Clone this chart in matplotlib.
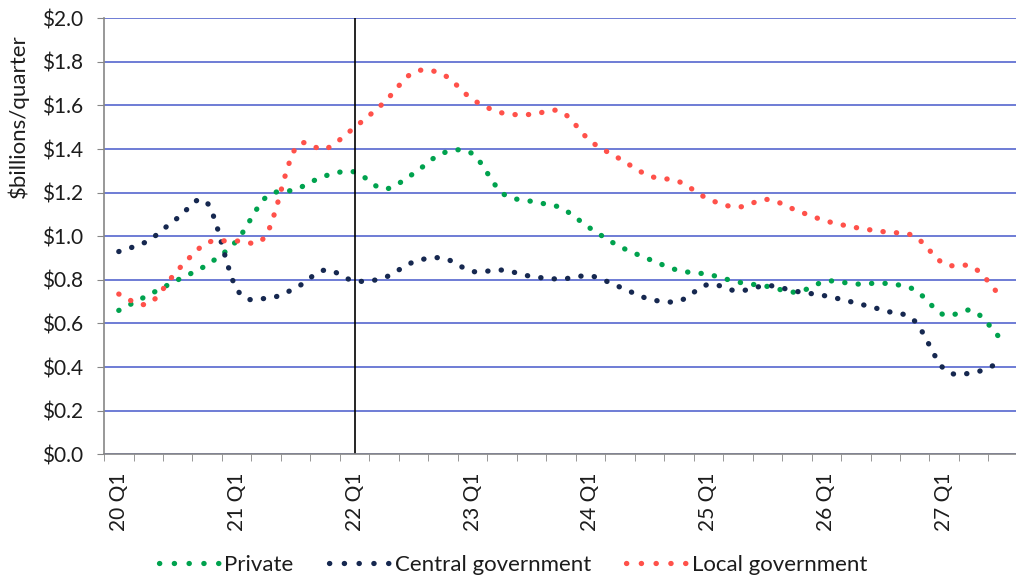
import numpy as np
import matplotlib
matplotlib.use("Agg")
import matplotlib.pyplot as plt
from matplotlib.path import Path
from matplotlib.patches import PathPatch
from matplotlib.lines import Line2D

# Quarterly categories, 20 Q1 .. 27 Q3
quarters = [f"{y} Q{q}" for y in range(20, 28) for q in range(1, 5)][:31]

# Spending, $ billions per quarter
private = [0.66, 0.73, 0.80, 0.87, 0.98, 1.18, 1.215, 1.277, 1.295, 1.217,
           1.288, 1.382, 1.378, 1.199, 1.16, 1.13, 1.036, 0.953, 0.894, 0.843,
           0.825, 0.79, 0.77, 0.744, 0.794, 0.781, 0.784, 0.754, 0.639, 0.657,
           0.515]
central = [0.93, 0.98, 1.084, 1.153, 0.758, 0.715, 0.763, 0.845, 0.795, 0.81,
           0.882, 0.90, 0.839, 0.845, 0.816, 0.804, 0.818, 0.767, 0.712, 0.703,
           0.779, 0.749, 0.774, 0.747, 0.726, 0.694, 0.658, 0.611, 0.391, 0.375,
           0.428]
local = [0.735, 0.69, 0.845, 0.97, 0.978, 1.006, 1.405, 1.40, 1.50, 1.614,
         1.752, 1.742, 1.628, 1.566, 1.559, 1.572, 1.437, 1.355, 1.277, 1.251,
         1.171, 1.134, 1.169, 1.118, 1.07, 1.04, 1.02, 0.999, 0.873, 0.857,
         0.708]

series = [("Private", private, "#00A24E"),
          ("Central government", central, "#162850"),
          ("Local government", local, "#FF514A")]

yticks = [0.0, 0.2, 0.4, 0.6, 0.8, 1.0, 1.2, 1.4, 1.6, 1.8, 2.0]
marker_quarter = "22 Q1"

FONT = ["Lato", "DejaVu Sans"]
plt.rcParams["font.family"] = FONT
TEXT = "#1c1c1c"

LW = 3.8
DOTS = (0, (0.05, 2.5))
LEGEND_DOTS = (0, (0.05, 2.75))


def smooth_path(xs, ys):
    """Cubic Bezier path through every point (Catmull-Rom style smoothing)."""
    pts = np.column_stack([xs, ys]).astype(float)
    n = len(pts)
    verts = [pts[0]]
    codes = [Path.MOVETO]
    for i in range(n - 1):
        p0 = pts[i - 1] if i > 0 else pts[i]
        p1 = pts[i]
        p2 = pts[i + 1]
        p3 = pts[i + 2] if i + 2 < n else pts[i + 1]
        c1 = p1 + (p2 - p0) / 6.0
        c2 = p2 - (p3 - p1) / 6.0
        verts += [c1, c2, p2]
        codes += [Path.CURVE4] * 3
    return Path(verts, codes)


fig = plt.figure(figsize=(10.16, 5.79), dpi=100)
ax = fig.add_axes([0.1024, 0.2154, 0.8995, 0.7530])

x = np.arange(len(quarters))
handles = []
for name, vals, color in series:
    patch = PathPatch(smooth_path(x, vals), fill=False, edgecolor=color,
                      linewidth=LW, linestyle=DOTS, capstyle="round",
                      zorder=3)
    ax.add_patch(patch)
    handles.append(Line2D([], [], color=color, linewidth=LW,
                          linestyle=LEGEND_DOTS, dash_capstyle="round",
                          label=name))

ax.axvline(quarters.index(marker_quarter), color="black", linewidth=1.2,
           zorder=4)

ax.set_xlim(-0.5, len(quarters) - 0.5)
ax.set_ylim(0, 2.0)

ax.set_yticks(yticks)
ax.set_yticklabels([f"${v:.1f}" for v in yticks], color=TEXT)
ax.yaxis.grid(True, color="#6272D2", linewidth=1.3, zorder=0)
ax.set_axisbelow(True)

label_pos = [i for i, q in enumerate(quarters) if q.endswith("Q1")]
ax.set_xticks(label_pos)
ax.set_xticklabels([quarters[i] for i in label_pos], rotation=90, va="top",
                   color=TEXT)
ax.set_xticks(np.arange(-0.5, len(quarters)), minor=True)
ax.tick_params(axis="x", which="major", length=0, pad=13, labelsize=15)
ax.tick_params(axis="x", which="minor", length=5, color="#868686",
               direction="out")
ax.tick_params(axis="y", length=5, color="#868686", pad=10, labelsize=15)

for side in ("top", "right"):
    ax.spines[side].set_visible(False)
for side in ("left", "bottom"):
    ax.spines[side].set_color("#868686")
    ax.spines[side].set_linewidth(1.2)
    ax.spines[side].set_zorder(5)

fig.text(0.018, 0.80, "$billions/quarter", rotation=90, ha="center",
         va="center", fontsize=16, color=TEXT)

fig.legend(handles=handles, loc="center", bbox_to_anchor=(0.505, 0.024),
           ncol=3, frameon=False, fontsize=16, handlelength=2.8,
           handletextpad=0.15, columnspacing=1.6, labelcolor=TEXT)

fig.savefig("out.png", dpi=100)
